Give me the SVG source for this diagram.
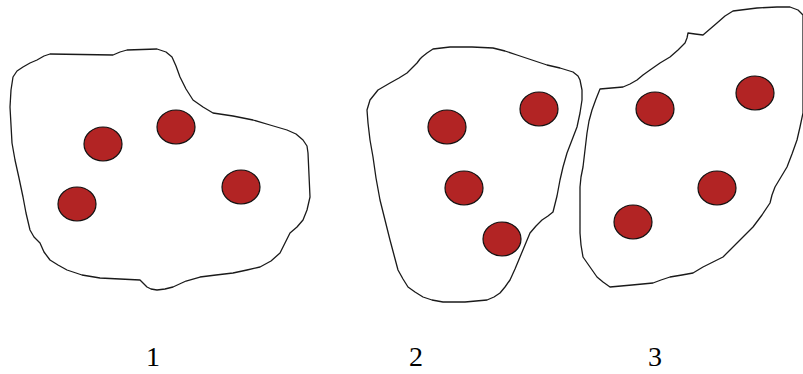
<svg xmlns="http://www.w3.org/2000/svg" width="803" height="374" viewBox="0 0 803 374">
<style>
.blob{fill:#fff;stroke:#1a1a1a;stroke-width:1.3;stroke-linejoin:round}
.dot{fill:#b22424;stroke:#111;stroke-width:1.2}
.lbl{font-family:"Liberation Serif","Times New Roman",serif;font-size:28px;fill:#000;text-anchor:middle}
</style>
<rect width="803" height="374" fill="#fff"/>
<g id="region1">
<path class="blob" d="M50,54 L113,55 L120,52 L127,50 L157,49 L166,52 L172,57 L176,66 L180,77 L186,89 L193,100 L203,107 L213,113 L233,116 L253,120 L270,125 L287,130 L296,134 L303,140 L307,146 L308,153 L309,175 L310,197 L307,210 L303,220 L297,227 L290,233 L285,243 L280,253 L271,261 L260,267 L247,270 L233,273 L216,275 L200,277 L186,281 L173,287 L165,289 L157,290 L151,289 L147,287 L143,283 L140,280 L120,279 L100,278 L82,275 L67,270 L58,265 L50,260 L44,252 L40,243 L34,237 L30,230 L26,213 L23,197 L19,178 L15,160 L12,143 L11,125 L10,107 L11,90 L13,77 L17,71 L23,67 L30,63 L37,60 L44,56 Z"/>
<ellipse class="dot" cx="103" cy="144" rx="19" ry="17"/>
<ellipse class="dot" cx="176" cy="127" rx="19" ry="17"/>
<ellipse class="dot" cx="241" cy="187" rx="19" ry="17"/>
<ellipse class="dot" cx="77" cy="204" rx="19" ry="17"/>
<text class="lbl" x="153" y="366">1</text>
</g>
<g id="region2">
<path class="blob" d="M367,110 L370,100 L378,90 L390,83 L399,78 L407,73 L413,67 L417,63 L420,59 L422,57 L427,53 L433,49 L450,47 L472,47 L493,48 L505,51 L517,55 L532,60 L547,65 L560,68 L573,72 L578,76 L580,80 L582,90 L582,100 L580,113 L577,127 L572,140 L567,153 L563,167 L560,180 L557,196 L553,212 L548,216 L542,220 L536,226 L530,233 L525,245 L520,257 L515,269 L510,280 L505,287 L500,293 L494,297 L487,300 L465,302 L443,302 L432,300 L423,297 L415,292 L408,287 L403,279 L398,270 L394,255 L390,240 L385,220 L380,200 L376,178 L373,157 L370,140 L368,123 Z"/>
<ellipse class="dot" cx="447" cy="127" rx="19" ry="17"/>
<ellipse class="dot" cx="539" cy="109" rx="19" ry="17"/>
<ellipse class="dot" cx="464" cy="188" rx="19" ry="17"/>
<ellipse class="dot" cx="502" cy="239" rx="19" ry="17"/>
<text class="lbl" x="416" y="366">2</text>
</g>
<g id="region3">
<path class="blob" d="M600,89 L623,87 L630,84 L637,80 L643,75 L650,70 L660,63 L670,57 L678,50 L685,43 L687,38 L688,33 L695,34 L703,35 L710,29 L717,23 L725,16 L733,11 L757,8 L777,7 L790,7 L798,10 L803,15 L803,60 L803,113 L800,127 L797,140 L792,154 L787,167 L781,177 L775,187 L772,195 L770,203 L762,215 L753,227 L745,235 L737,243 L730,250 L723,257 L713,262 L703,267 L698,270 L693,273 L682,275 L670,277 L661,280 L653,283 L632,285 L610,287 L603,282 L597,277 L590,267 L583,257 L581,245 L580,233 L580,210 L580,187 L581,177 L583,167 L585,150 L587,133 L589,121 L592,110 L596,99 Z"/>
<ellipse class="dot" cx="655" cy="109" rx="19" ry="17"/>
<ellipse class="dot" cx="755" cy="93" rx="19" ry="17"/>
<ellipse class="dot" cx="717" cy="188" rx="19" ry="17"/>
<ellipse class="dot" cx="633" cy="222" rx="19" ry="17"/>
<text class="lbl" x="655" y="366">3</text>
</g>
<g id="connectors"></g>
</svg>
